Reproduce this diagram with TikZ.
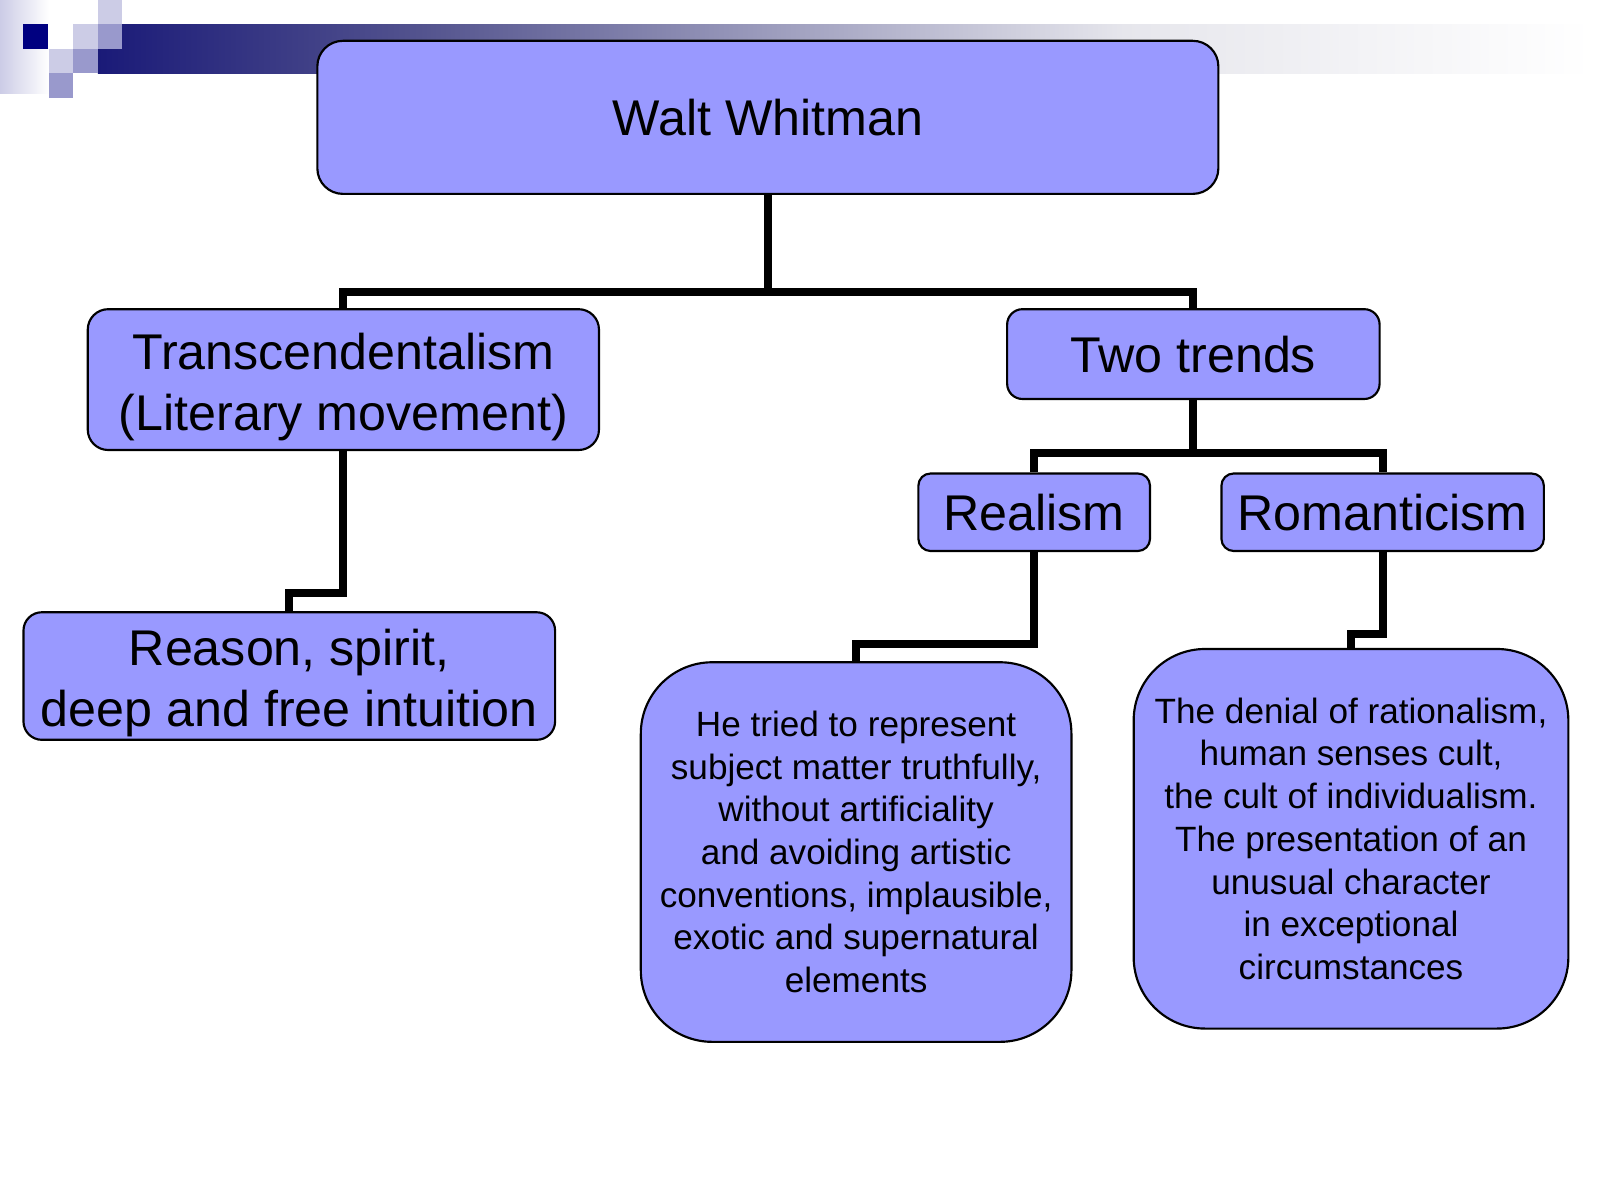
\documentclass[tikz,border=0pt]{standalone}
\usepackage{fontspec}
\setmainfont{Liberation Sans}
\usetikzlibrary{positioning}
\definecolor{boxfill}{HTML}{9999FF}
\definecolor{sqnavy}{HTML}{000080}
\definecolor{sqlight}{HTML}{CCCCE6}
\definecolor{sqmid}{HTML}{9999CC}
\definecolor{bandleft}{HTML}{1A1A78}
\definecolor{bandmid}{HTML}{55558F}
\definecolor{bandgrey}{HTML}{E6E6EC}
\begin{document}
\begin{tikzpicture}[x=0.1mm,y=-0.1mm,
        box/.style={draw=black,line width=0.6pt,fill=boxfill,align=center,inner sep=0pt,font=\fontsize{14pt}{17pt}\selectfont},
        descbox/.style={box,rounded corners=7mm,font=\fontsize{9.8pt}{11.9pt}\selectfont},
        conn/.style={line width=0.8mm}]
    \useasboundingbox (0,0) rectangle (1568,1176);
    % title bar
    \shade[left color=sqlight,right color=white] (0,0) rectangle (48,92);
    \shade[left color=bandleft,right color=bandmid] (96,24) rectangle (421,72);
    \shade[left color=bandmid,right color=bandgrey] (420,24) rectangle (1101,72);
    \shade[left color=bandgrey,right color=white] (1100,24) rectangle (1560,72);
    \foreach \x/\y/\c in {23/24/sqnavy,96/0/sqlight,72/24/sqlight,96/24/sqmid,48/48/sqlight,72/48/sqmid,48/72/sqmid}
        \fill[\c] (\x,\y) rectangle ++(24,24);
    % boxes
    \node[box,rounded corners=2.5mm,minimum width=88.3mm,minimum height=15mm] (ww) at (752.5,115) {Walt Whitman};
    \node[box,rounded corners=2mm,minimum width=50.1mm,minimum height=13.8mm] (tr) at (336.5,372) {\rule{0pt}{5mm}Transcendentalism\\(Literary movement)};
    \node[box,rounded corners=1.5mm,minimum width=36.5mm,minimum height=8.8mm] (tt) at (1169.5,347) {Two trends};
    \node[box,rounded corners=1.2mm,minimum width=22.7mm,minimum height=7.6mm] (re) at (1013.5,502) {Realism};
    \node[box,rounded corners=1.2mm,minimum width=31.6mm,minimum height=7.6mm] (ro) at (1355,502) {Romanticism};
    \node[box,rounded corners=1.8mm,minimum width=52.1mm,minimum height=12.5mm] (rs) at (283.5,662.5) {\rule{0pt}{5mm}Reason, spirit,\\deep and free intuition};
    \node[descbox,minimum width=42.2mm,minimum height=37.2mm] (rd) at (839,835) {He tried to represent\\subject matter truthfully,\\without artificiality\\and avoiding artistic\\conventions, implausible,\\exotic and supernatural\\elements};
    \node[descbox,minimum width=42.6mm,minimum height=37.2mm] (rod) at (1324,822) {The denial of rationalism,\\human senses cult,\\the cult of individualism.\\The presentation of an\\unusual character\\in exceptional\\circumstances};
    % connectors
    \draw[conn] (ww.south) -- ++(0,95) coordinate (wj);
    \draw[conn] (tr.north) |- (wj) -| (tt.north);
    \draw[conn] (tt.south) -- ++(0,52) coordinate (tj);
    \draw[conn] (re.north) |- (tj) -| (ro.north);
    \draw[conn] (tr.south) -- ++(0,139) -| (rs.north);
    \draw[conn] (re.south) -- ++(0,90) -| (rd.north);
    \draw[conn] (ro.south) -- ++(0,80) -| (rod.north);
\end{tikzpicture}
\end{document}
